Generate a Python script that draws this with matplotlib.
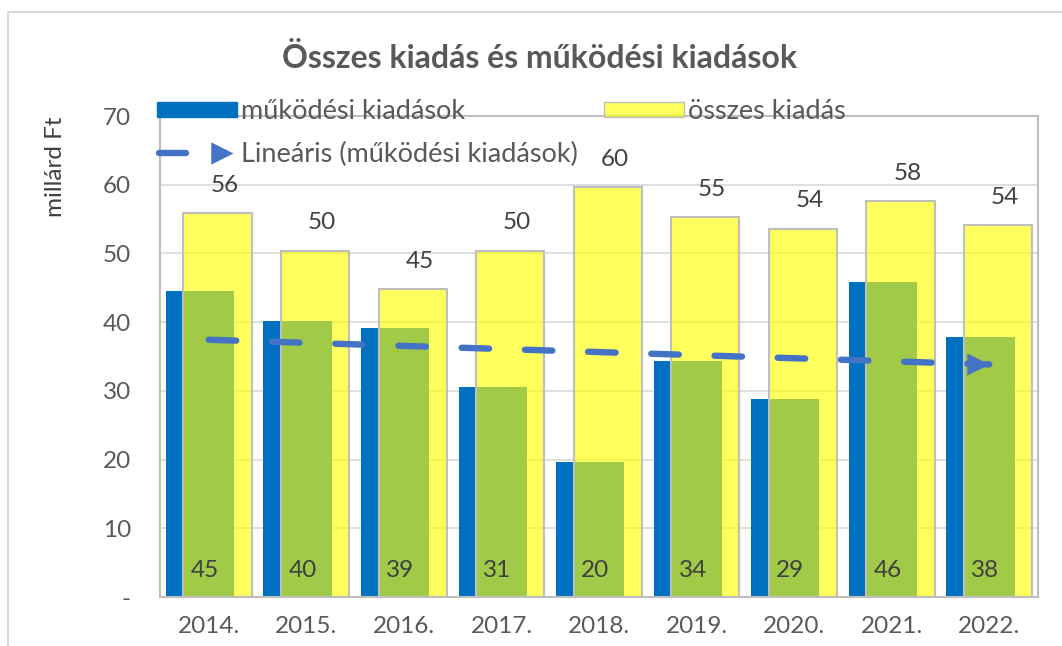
import numpy as np
import matplotlib
matplotlib.use("Agg")
import matplotlib.pyplot as plt
from matplotlib.patches import Rectangle, Patch
from matplotlib.lines import Line2D
from matplotlib.path import Path
from matplotlib.legend_handler import HandlerBase

years = ["2014.", "2015.", "2016.", "2017.", "2018.", "2019.", "2020.", "2021.", "2022."]
mukodesi = [44.6, 40.1, 39.1, 30.6, 19.6, 34.4, 28.8, 45.8, 37.8]
osszes = [55.9, 50.4, 44.8, 50.4, 59.6, 55.3, 53.6, 57.6, 54.1]
ytick_vals = [0, 10, 20, 30, 40, 50, 60, 70]
ytick_labels = ["-", "10", "20", "30", "40", "50", "60", "70"]

FONT = ["Lato", "DejaVu Sans"]
plt.rcParams["font.family"] = FONT

BLUE = "#0070C0"
TREND = "#4472C4"
GREY_TXT = "#595959"
DARK_TXT = "#404040"
YELLOW = (1, 1, 0, 0.63)

# arrow-head marker whose tip sits on the data point
ARROW = Path([(0, 0), (-1, 0.5), (-1, -0.5), (0, 0)],
             [Path.MOVETO, Path.LINETO, Path.LINETO, Path.CLOSEPOLY])

fig = plt.figure(figsize=(10.62, 6.46), dpi=100)
fig.patches.append(Rectangle((8 / 1062, -0.1), 1.2, (646 - 12) / 646 + 0.1,
                             transform=fig.transFigure, fill=False,
                             edgecolor="#D9D9D9", linewidth=1.5))

ax = fig.add_axes([160 / 1062, 1 - 597 / 646, (1038 - 160) / 1062, (597 - 116) / 646])

x = np.arange(len(years))
w = 0.70
off = 0.09
ax.bar(x - off, mukodesi, width=w, color=BLUE, zorder=2)
ax.bar(x + off, osszes, width=w, color=YELLOW, edgecolor="#BFBFBF",
       linewidth=1.5, zorder=3)

LBL = 17.5
for xi, v in zip(x, osszes):
    ax.annotate(f"{v:.0f}", (xi + 0.16, v), xytext=(0, 20), textcoords="offset points",
                ha="center", va="center", fontsize=LBL, color=DARK_TXT, zorder=5)
for xi, v in zip(x, mukodesi):
    ax.text(xi - 0.04, 3.9, f"{v:.0f}", ha="center", va="center",
            fontsize=LBL, color=DARK_TXT, zorder=5)

# linear trend of működési kiadások
coef = np.polyfit(x, mukodesi, 1)
trend = np.polyval(coef, x)
lw = 4.6
ax.plot(x, trend, color=TREND, linewidth=lw, linestyle=(0, (4.3, 5.6)),
        dash_capstyle="round", zorder=6)
ax.plot(x[-1:], trend[-1:], linestyle="none", marker=ARROW, markersize=32,
        color=TREND, markeredgewidth=0, zorder=7)

ax.set_xlim(-0.5, len(years) - 0.5)
ax.set_ylim(0, 70)
ax.set_xticks(x)
ax.set_xticklabels(years)
ax.set_yticks(ytick_vals)
ax.set_yticklabels(ytick_labels)
ax.tick_params(axis="both", length=0, labelsize=LBL, colors=GREY_TXT)
ax.tick_params(axis="y", pad=21)
ax.tick_params(axis="x", pad=14)
ax.grid(axis="y", color="#D9D9D9", linewidth=1.2, zorder=0)
ax.set_axisbelow(True)
for s in ax.spines.values():
    s.set_color("#BFBFBF")
    s.set_linewidth(1.5)

ax.set_ylabel("millárd Ft", fontsize=LBL, color=DARK_TXT)
ax.yaxis.set_label_coords(-0.107, 0.895)

fig.text(540 / 1062, 1 - 58 / 646, "Összes kiadás és működési kiadások",
         ha="center", va="center", fontsize=23, fontweight="bold", color=GREY_TXT)


class TrendHandler(HandlerBase):
    def create_artists(self, legend, orig_handle, xdescent, ydescent, width, height,
                       fontsize, trans):
        y = height / 2 - ydescent
        x0 = -xdescent
        dash = Line2D([x0 + 0.02 * width, x0 + 0.36 * width], [y, y], color=TREND,
                      linewidth=lw, solid_capstyle="round", transform=trans)
        head = Line2D([x0 + 0.95 * width], [y], linestyle="none", marker=ARROW,
                      markersize=32, color=TREND, markeredgewidth=0, transform=trans)
        return [dash, head]


h_blue = Patch(facecolor=BLUE, edgecolor=BLUE)
h_yel = Patch(facecolor=YELLOW, edgecolor="#BFBFBF")
h_tr = Line2D([], [], color=TREND)
leg = fig.legend([h_blue, h_tr, h_yel],
                 ["működési kiadások", "Lineáris (működési kiadások)", "összes kiadás"],
                 ncol=2, loc="upper left", bbox_to_anchor=(157 / 1062, 1 - 99 / 646),
                 frameon=False, fontsize=19.5, handlelength=2.95, handleheight=0.5,
                 columnspacing=0.97, labelspacing=0.67, handletextpad=0.15,
                 borderpad=0, borderaxespad=0, labelcolor=GREY_TXT,
                 handler_map={h_tr: TrendHandler()})

fig.savefig("out.png", dpi=100)
